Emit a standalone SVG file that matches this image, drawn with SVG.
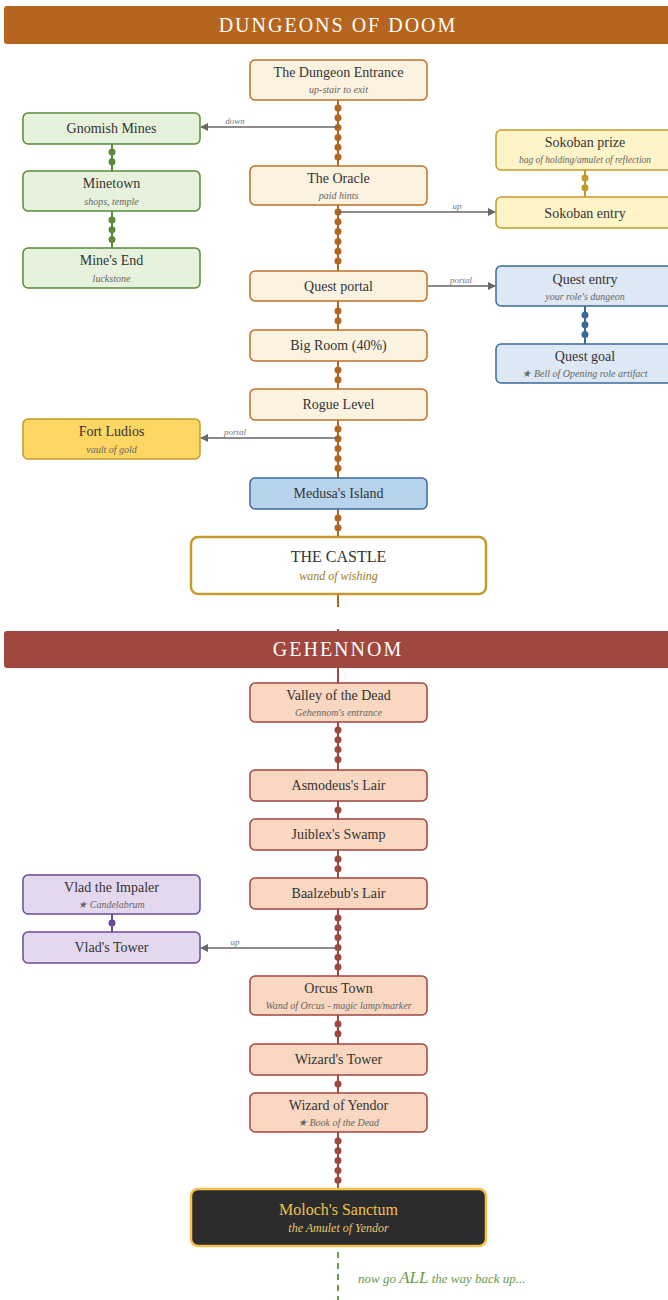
<svg xmlns="http://www.w3.org/2000/svg" width="668" height="1300" viewBox="0 0 668 1300">
<style>
text{font-family:"Liberation Serif","DejaVu Serif",serif;text-anchor:middle;}
.t{font-size:14px;fill:#333;}
.s{font-size:10px;font-style:italic;fill:#666;}
.hdr{font-size:20px;fill:#fff;letter-spacing:2px;}
.lbl{font-size:9px;font-style:italic;fill:#777;text-anchor:middle;}
.doom{fill:#fbf2e0;stroke:#c0702a;stroke-width:1.5;}
.mine{fill:#e6f2dc;stroke:#5a8a3a;stroke-width:1.5;}
.soko{fill:#fff3c8;stroke:#c49a2a;stroke-width:1.5;}
.quest{fill:#dde8f4;stroke:#3a6a9c;stroke-width:1.5;}
.ludios{fill:#fdd663;stroke:#c49a2a;stroke-width:1.5;}
.medusa{fill:#b8d3ee;stroke:#3a6a9c;stroke-width:1.5;}
.geh{fill:#f9d7c0;stroke:#a0473f;stroke-width:1.5;}
.vlad{fill:#e4d8ef;stroke:#6a4a9c;stroke-width:1.5;}
.spine{fill:none;stroke-width:2;}
.dots{fill:none;stroke-width:7;stroke-linecap:round;stroke-dasharray:0 9.8;}
.side{fill:none;stroke:#666;stroke-width:1.5;}
</style>
<defs>
<marker id="arr" viewBox="0 0 10 10" refX="9" refY="5" markerWidth="8" markerHeight="8" orient="auto-start-reverse" markerUnits="userSpaceOnUse">
<path d="M0 0L10 5L0 10z" fill="#666"/>
</marker>
</defs>

<g id="connectors">
<!-- doom spine -->
<path class="spine" stroke="#b5651d" d="M338 100V166M338 205V271M338 301V330M338 361V389M338 420V478M338 509V537M338 594V607"/>
<path class="dots" stroke="#b5651d" d="M338 108V157.1M338 212V261.1M338 311V320.9M338 370V379.9M338 429V468.3M338 518V527.9"/>
<!-- mines -->
<path class="spine" stroke="#5a8a3a" d="M112 144V171M112 211V248"/>
<path class="dots" stroke="#5a8a3a" d="M112 152V161.9M112 220V239.7"/>
<!-- sokoban -->
<path class="spine" stroke="#c49a2a" d="M585 170V197"/>
<path class="dots" stroke="#c49a2a" d="M585 178V187.9"/>
<!-- quest -->
<path class="spine" stroke="#3a6a9c" d="M585 306V344"/>
<path class="dots" stroke="#3a6a9c" d="M585 315V334.7"/>
<!-- side branches -->
<path class="side" marker-end="url(#arr)" d="M338 127H201"/>
<text class="lbl" x="235" y="124">down</text>
<path class="side" marker-end="url(#arr)" d="M338 212H495"/>
<text class="lbl" x="457" y="209">up</text>
<path class="side" marker-end="url(#arr)" d="M428 286H495"/>
<text class="lbl" x="461" y="283">portal</text>
<path class="side" marker-end="url(#arr)" d="M338 438H201"/>
<text class="lbl" x="235" y="435">portal</text>
<!-- gehennom spine -->
<path class="spine" stroke="#a0473f" d="M338 629V683M338 722V770M338 801V819M338 850V878M338 909V976M338 1015V1044M338 1075V1093M338 1132V1189"/>
<path class="dots" stroke="#a0473f" d="M338 730V759.5M338 810V810.1M338 859V868.9M338 918V967.1M338 1024V1033.9M338 1084V1084.1M338 1141V1180.3"/>
<!-- vlad -->
<path class="spine" stroke="#6a4a9c" d="M112 914V932"/>
<path class="dots" stroke="#6a4a9c" d="M112 923V923.1"/>
<path class="side" marker-end="url(#arr)" d="M338 948H201"/>
<text class="lbl" x="235" y="945">up</text>
<!-- back up -->
<path fill="none" stroke="#6a9a4a" stroke-width="2" stroke-dasharray="6 5" d="M338 1252V1300"/>
</g>

<g id="header-doom">
<rect x="4" y="6" width="668" height="38" rx="3" fill="#b5651d"/>
<text class="hdr" x="338" y="32">DUNGEONS OF DOOM</text>
</g>

<g id="dungeon-entrance"><rect class="doom" x="250" y="60" width="177" height="40" rx="5"/><text class="t" x="338.5" y="77">The Dungeon Entrance</text><text class="s" x="338.5" y="93">up-stair to exit</text></g>
<g id="oracle"><rect class="doom" x="250" y="166" width="177" height="39" rx="5"/><text class="t" x="338.5" y="183">The Oracle</text><text class="s" x="338.5" y="199">paid hints</text></g>
<g id="quest-portal"><rect class="doom" x="250" y="271" width="177" height="30" rx="5"/><text class="t" x="338.5" y="291">Quest portal</text></g>
<g id="big-room"><rect class="doom" x="250" y="330" width="177" height="31" rx="5"/><text class="t" x="338.5" y="350">Big Room (40%)</text></g>
<g id="rogue-level"><rect class="doom" x="250" y="389" width="177" height="31" rx="5"/><text class="t" x="338.5" y="409">Rogue Level</text></g>
<g id="medusa"><rect class="medusa" x="250" y="478" width="177" height="31" rx="5"/><text class="t" x="338.5" y="498">Medusa's Island</text></g>
<g id="castle"><rect x="191" y="537" width="295" height="57" rx="7" fill="#fff" stroke="#c49a2a" stroke-width="2.5"/><text class="t" style="font-size:16px" x="338.5" y="562">THE CASTLE</text><text class="s" style="font-size:12px;fill:#a07a20" x="338.5" y="580">wand of wishing</text></g>

<g id="gnomish-mines"><rect class="mine" x="23" y="113" width="177" height="31" rx="5"/><text class="t" x="111.5" y="133">Gnomish Mines</text></g>
<g id="minetown"><rect class="mine" x="23" y="171" width="177" height="40" rx="5"/><text class="t" x="111.5" y="188">Minetown</text><text class="s" x="111.5" y="205">shops, temple</text></g>
<g id="mines-end"><rect class="mine" x="23" y="248" width="177" height="40" rx="5"/><text class="t" x="111.5" y="265">Mine's End</text><text class="s" x="111.5" y="282">luckstone</text></g>
<g id="fort-ludios"><rect class="ludios" x="23" y="419" width="177" height="40" rx="5"/><text class="t" x="111.5" y="436">Fort Ludios</text><text class="s" x="111.5" y="453">vault of gold</text></g>

<g id="sokoban-prize"><rect class="soko" x="496" y="130" width="177" height="40" rx="5"/><text class="t" x="585" y="147">Sokoban prize</text><text class="s" style="font-size:9.5px" x="585" y="163">bag of holding/amulet of reflection</text></g>
<g id="sokoban-entry"><rect class="soko" x="496" y="197" width="177" height="31" rx="5"/><text class="t" x="585" y="218">Sokoban entry</text></g>
<g id="quest-entry"><rect class="quest" x="496" y="266" width="177" height="40" rx="5"/><text class="t" x="585" y="284">Quest entry</text><text class="s" x="585" y="300">your role's dungeon</text></g>
<g id="quest-goal"><rect class="quest" x="496" y="344" width="177" height="39" rx="5"/><text class="t" x="585" y="361">Quest goal</text><text class="s" x="585" y="377">★ Bell of Opening role artifact</text></g>

<g id="header-gehennom">
<rect x="4" y="631" width="668" height="37" rx="3" fill="#a0473f"/>
<text class="hdr" x="338" y="656">GEHENNOM</text>
</g>

<g id="valley"><rect class="geh" x="250" y="683" width="177" height="39" rx="5"/><text class="t" x="338.5" y="700">Valley of the Dead</text><text class="s" x="338.5" y="716">Gehennom's entrance</text></g>
<g id="asmodeus"><rect class="geh" x="250" y="770" width="177" height="31" rx="5"/><text class="t" x="338.5" y="790">Asmodeus's Lair</text></g>
<g id="juiblex"><rect class="geh" x="250" y="819" width="177" height="31" rx="5"/><text class="t" x="338.5" y="839">Juiblex's Swamp</text></g>
<g id="baalzebub"><rect class="geh" x="250" y="878" width="177" height="31" rx="5"/><text class="t" x="338.5" y="898">Baalzebub's Lair</text></g>
<g id="orcus-town"><rect class="geh" x="250" y="976" width="177" height="39" rx="5"/><text class="t" x="338.5" y="993">Orcus Town</text><text class="s" x="338.5" y="1009">Wand of Orcus - magic lamp/marker</text></g>
<g id="wizards-tower"><rect class="geh" x="250" y="1044" width="177" height="31" rx="5"/><text class="t" x="338.5" y="1064">Wizard's Tower</text></g>
<g id="wizard-of-yendor"><rect class="geh" x="250" y="1093" width="177" height="39" rx="5"/><text class="t" x="338.5" y="1110">Wizard of Yendor</text><text class="s" x="338.5" y="1126">★ Book of the Dead</text></g>
<g id="moloch"><rect x="191" y="1189" width="295" height="57" rx="7" fill="#2c2c2c" stroke="#f5c04a" stroke-width="2.5"/><text class="t" style="font-size:16px;fill:#f0c050" x="338.5" y="1215">Moloch's Sanctum</text><text class="s" style="font-size:12px;fill:#e8c870" x="338.5" y="1232">the Amulet of Yendor</text></g>

<g id="vlad-impaler"><rect class="vlad" x="23" y="875" width="177" height="39" rx="5"/><text class="t" x="111.5" y="892">Vlad the Impaler</text><text class="s" x="111.5" y="908">★ Candelabrum</text></g>
<g id="vlads-tower"><rect class="vlad" x="23" y="932" width="177" height="31" rx="5"/><text class="t" x="111.5" y="952">Vlad's Tower</text></g>

<g id="back-up-note">
<text x="358" y="1283" style="text-anchor:start;font-style:italic;fill:#6a9a4a;font-size:13px">now go <tspan style="font-size:17px">ALL</tspan> the way back up...</text>
</g>
</svg>
